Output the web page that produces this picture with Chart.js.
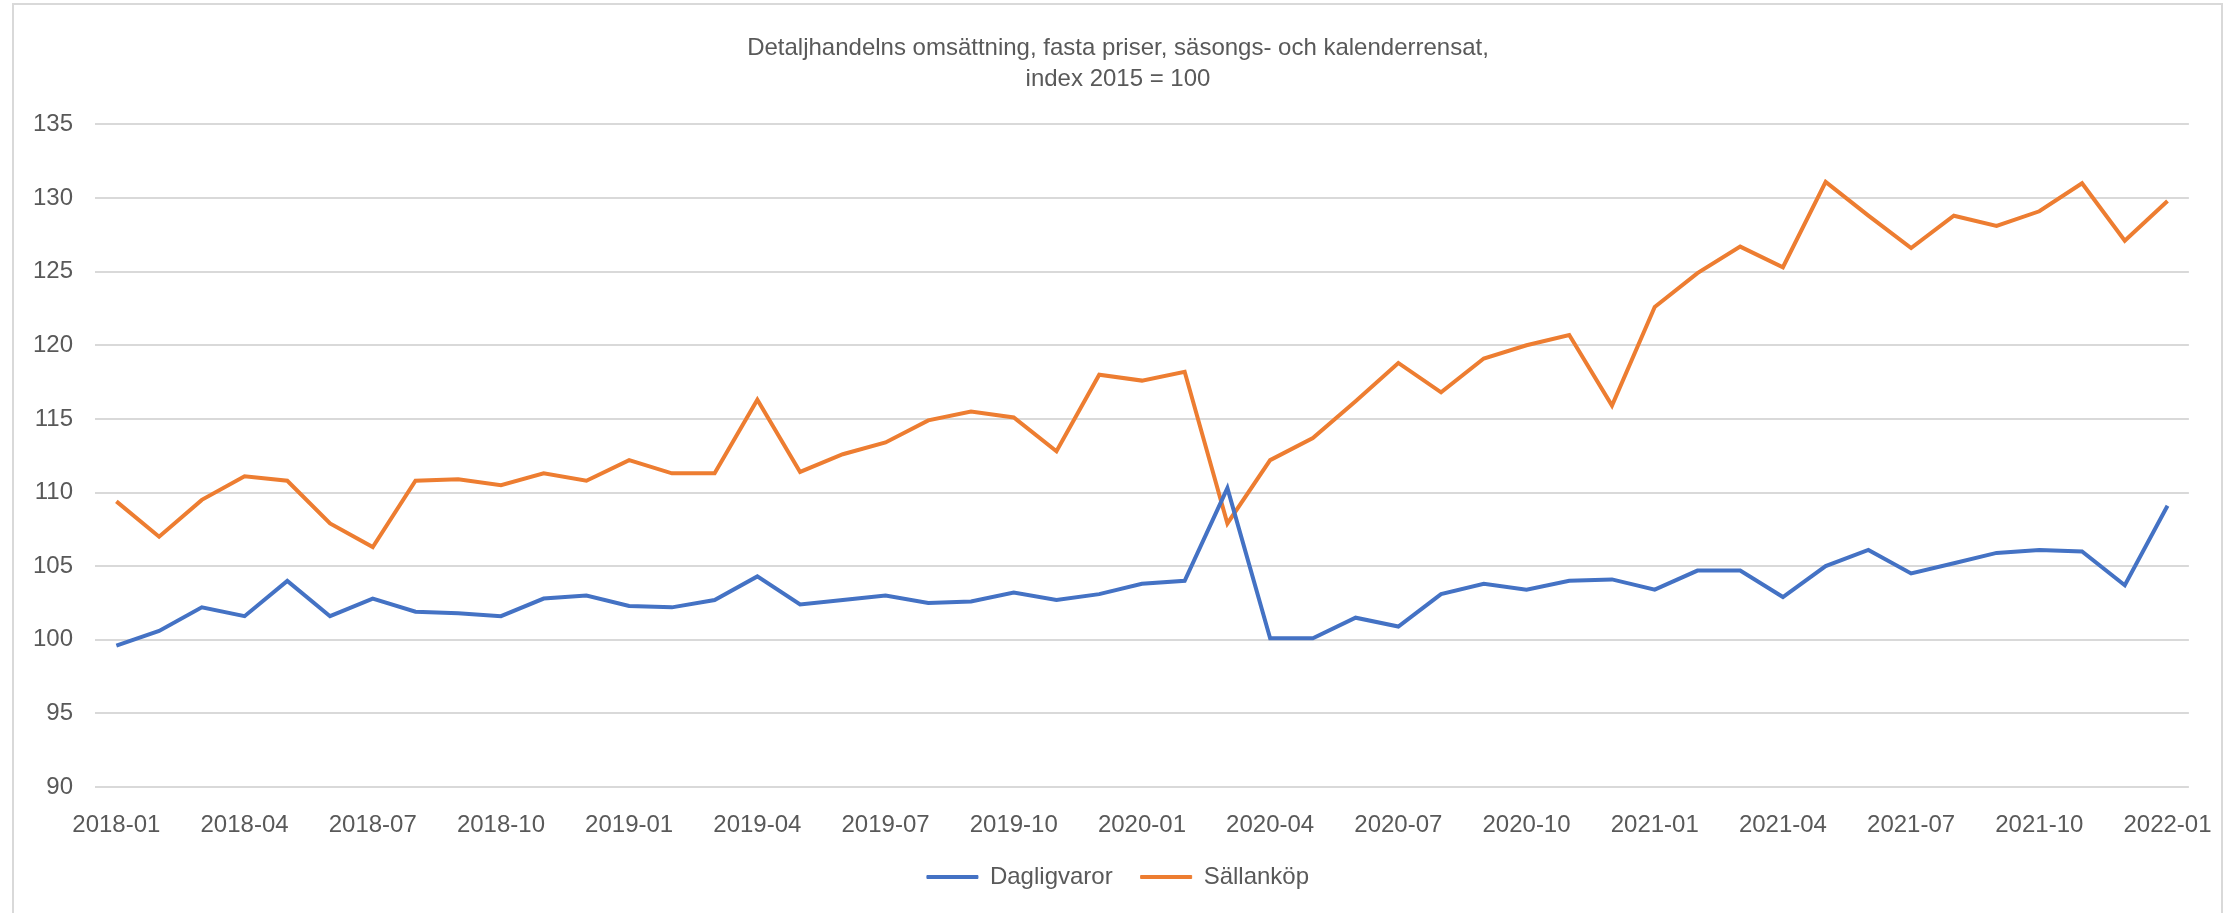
<!DOCTYPE html>
<html>
<head>
<meta charset="utf-8">
<script src="https://cdn.jsdelivr.net/npm/chart.js@4/dist/chart.umd.min.js"></script>
<style>
  html, body { margin: 0; padding: 0; background: #fff; overflow: hidden; }
  #frame { position: absolute; left: 12px; top: 3px; width: 2211px; height: 960px; border: 2px solid #D9D9D9; box-sizing: border-box; }
  #wrap { position: absolute; left: 0; top: 0; width: 2236px; height: 913px; }
</style>
</head>
<body>
<div id="frame"></div>
<div id="wrap"><canvas id="c"></canvas></div>
<script>
const months = [
  "2018-01","2018-02","2018-03","2018-04","2018-05","2018-06","2018-07","2018-08","2018-09","2018-10","2018-11","2018-12",
  "2019-01","2019-02","2019-03","2019-04","2019-05","2019-06","2019-07","2019-08","2019-09","2019-10","2019-11","2019-12",
  "2020-01","2020-02","2020-03","2020-04","2020-05","2020-06","2020-07","2020-08","2020-09","2020-10","2020-11","2020-12",
  "2021-01","2021-02","2021-03","2021-04","2021-05","2021-06","2021-07","2021-08","2021-09","2021-10","2021-11","2021-12",
  "2022-01"
];
const dagligvaror = [
  99.6, 100.6, 102.2, 101.6, 104.0, 101.6, 102.8, 101.9, 101.8, 101.6, 102.8, 103.0,
  102.3, 102.2, 102.7, 104.3, 102.4, 102.7, 103.0, 102.5, 102.6, 103.2, 102.7, 103.1,
  103.8, 104.0, 110.3, 100.1, 100.1, 101.5, 100.9, 103.1, 103.8, 103.4, 104.0, 104.1,
  103.4, 104.7, 104.7, 102.9, 105.0, 106.1, 104.5, 105.2, 105.9, 106.1, 106.0, 103.7,
  109.1
];
const sallankop = [
  109.4, 107.0, 109.5, 111.1, 110.8, 107.9, 106.3, 110.8, 110.9, 110.5, 111.3, 110.8,
  112.2, 111.3, 111.3, 116.3, 111.4, 112.6, 113.4, 114.9, 115.5, 115.1, 112.8, 118.0,
  117.6, 118.2, 107.9, 112.2, 113.7, 116.2, 118.8, 116.8, 119.1, 120.0, 120.7, 115.9,
  122.6, 124.9, 126.7, 125.3, 131.1, 128.8, 126.6, 128.8, 128.1, 129.1, 131.0, 127.1,
  129.8
];
const titleLines = ["Detaljhandelns omsättning, fasta priser, säsongs- och kalenderrensat,", "index 2015 = 100"];
const seriesNames = ["Dagligvaror", "Sällanköp"];
const yMin = 90, yMax = 135, yStep = 5;

const FONT = "'Liberation Sans', Arial, sans-serif";
const TXT = "#595959";

new Chart(document.getElementById('c'), {
  type: 'line',
  data: {
    labels: months,
    datasets: [
      { label: seriesNames[0], data: dagligvaror, borderColor: '#4472C4', backgroundColor: '#4472C4', borderWidth: 4, pointRadius: 0, tension: 0, yAxisID: 'y' },
      { label: seriesNames[1], data: sallankop, borderColor: '#ED7D31', backgroundColor: '#ED7D31', borderWidth: 4, pointRadius: 0, tension: 0, yAxisID: 'y' }
    ]
  },
  options: {
    responsive: true,
    maintainAspectRatio: false,
    animation: false,
    devicePixelRatio: 1,
    layout: { padding: { left: 0, right: 0, top: 0, bottom: 14 } },
    plugins: {
      tooltip: { enabled: false },
      title: {
        display: true,
        text: titleLines,
        color: TXT,
        font: { family: FONT, size: 24, weight: 'normal', lineHeight: 1.3 },
        padding: { top: 33, bottom: 29 }
      },
      legend: {
        position: 'bottom',
        labels: {
          color: TXT,
          font: { family: FONT, size: 24 },
          boxWidth: 51,
          boxHeight: 3,
          padding: 28,
          generateLabels: (chart) => chart.data.datasets.map((ds, i) => ({
            text: ds.label, fillStyle: ds.borderColor, strokeStyle: ds.borderColor,
            lineWidth: 1, hidden: false, datasetIndex: i, fontColor: TXT
          }))
        }
      }
    },
    scales: {
      x: {
        offset: true,
        grid: { display: false, drawTicks: false },
        border: { display: false },
        ticks: {
          autoSkip: false, maxRotation: 0, minRotation: 0, padding: 24,
          color: TXT, font: { family: FONT, size: 24 },
          callback: function(value, index) { return index % 3 === 0 ? this.getLabelForValue(value) : ''; }
        },
        afterFit: (s) => { s.height = 50; }
      },
      y: {
        min: yMin, max: yMax,
        grid: { color: '#D9D9D9', lineWidth: 2, drawTicks: false },
        border: { display: false },
        ticks: { stepSize: yStep, padding: 22, color: TXT, font: { family: FONT, size: 24 } },
        afterFit: (s) => { s.width = 95; }
      },
      yRight: {
        position: 'right',
        display: true,
        grid: { display: false, drawTicks: false },
        border: { display: false },
        ticks: { display: false },
        afterFit: (s) => { s.width = 44; }
      }
    }
  }
});
</script>
</body>
</html>
